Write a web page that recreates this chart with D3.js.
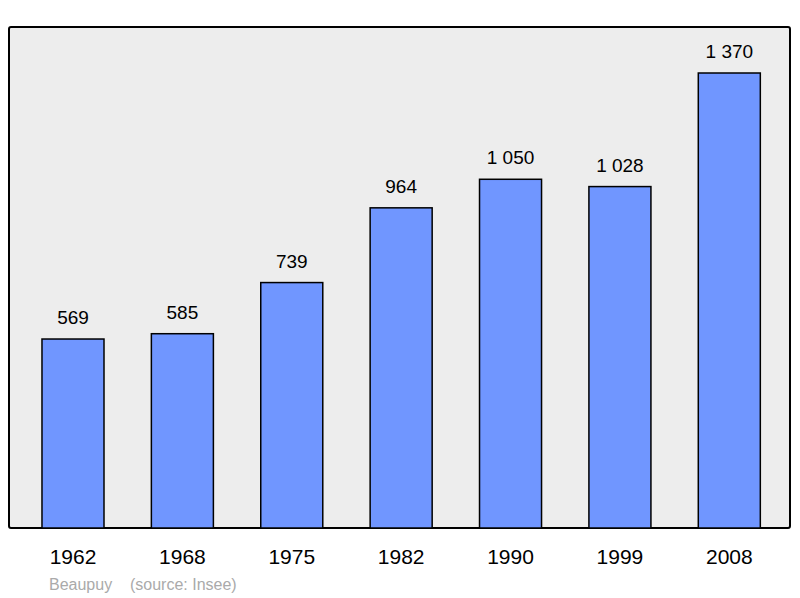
<!DOCTYPE html>
<html><head><meta charset="utf-8">
<script src="https://cdn.jsdelivr.net/npm/d3@7"></script>
<style>body{margin:0;background:#fff}</style>
</head><body>
<svg id="chart" width="800" height="598"></svg>
<script>
var years = ["1962", "1968", "1975", "1982", "1990", "1999", "2008"]
var population = [569, 585, 739, 964, 1050, 1028, 1370]
var labels = ["569", "585", "739", "964", "1 050", "1 028", "1 370"]

var svg = d3.select('#chart')

// panel
svg.append("rect")
  .attr("x", 9).attr("y", 27)
  .attr("width", 781).attr("height", 501)
  .attr("rx", 2)
  .style("fill", "#ededed")
  .style("stroke", "black")
  .style("stroke-width", 2)

var x = d3.scaleBand()
  .domain(years)
  .range([18.3, 784])
  .paddingInner(0.433)
  .paddingOuter(0.2165)

var y = d3.scaleLinear()
  .domain([0, 1370])
  .range([528, 73])

var bars = svg.append("g").selectAll("g")
  .data(years.map(function (d, i) { return {year: d, v: population[i], lab: labels[i]} }))
  .enter().append("g")

bars.append("rect")
  .attr("x", function (d) { return x(d.year) })
  .attr("y", function (d) { return y(d.v) })
  .attr("width", x.bandwidth())
  .attr("height", function (d) { return y(0) - y(d.v) })
  .style("fill", "#7096ff")
  .style("stroke", "black")
  .style("stroke-width", 1.5)

bars.append("text")
  .attr("x", function (d) { return x(d.year) + x.bandwidth() / 2 })
  .attr("y", function (d) { return y(d.v) - 15 })
  .attr("text-anchor", "middle")
  .style("font-family", "Liberation Sans, Arial, sans-serif")
  .style("font-size", "19px")
  .text(function (d) { return d.lab })

// year labels
var axis = d3.axisBottom(x).tickSize(0).tickPadding(0)
var ax = svg.append("g").attr("transform", "translate(0, 564)").call(axis)
ax.select(".domain").remove()
ax.selectAll("text")
  .attr("dy", 0)
  .style("font-family", "Liberation Sans, Arial, sans-serif")
  .style("font-size", "21px")
  .style("fill", "black")

svg.append("text")
  .attr("x", 49).attr("y", 590)
  .style("font-family", "Liberation Sans, Arial, sans-serif")
  .style("font-size", "16px")
  .style("fill", "#aaaaaa")
  .style("white-space", "pre")
  .text("Beaupuy    (source: Insee)")
</script>
</body></html>
